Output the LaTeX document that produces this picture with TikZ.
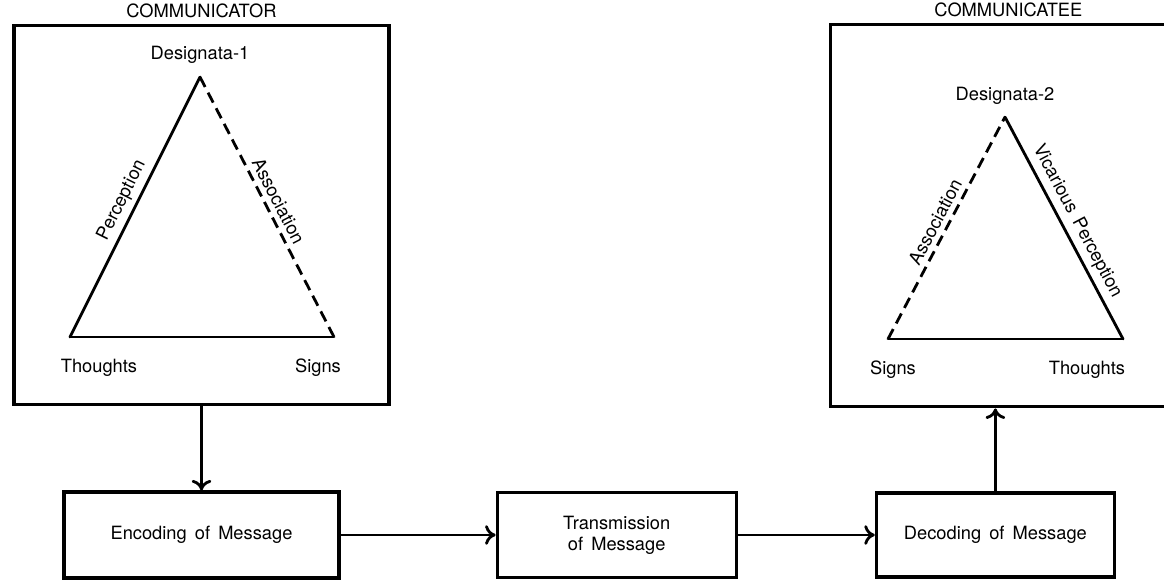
\documentclass[tikz,border=0pt]{standalone}
\usepackage{fontspec}
\setmainfont{TeX Gyre Heros}
\usetikzlibrary{positioning,arrows.meta}

\begin{document}
\begin{tikzpicture}[x=0.025cm, y=-0.025cm, node distance=2.1cm,
    >={To[length=7.5pt, width=14pt]},
    every node/.style={font=\fontsize{13}{15}\selectfont},
    box/.style={draw, line width=2.2pt, align=center},
    frame/.style={draw, line width=2.5pt},
    edge/.style={line width=2pt, line cap=round},
    assoc/.style={edge, line cap=butt, dash pattern=on 8pt off 4.5pt},
    link/.style={line width=2pt, ->}]
     \useasboundingbox (0,0) rectangle (1164,582);
     % the message boxes
     \node (encoding box) [box, minimum width=6.875cm, minimum height=2.15cm] at (201.5,535) {Encoding\, of\, Message};
     \node (transmission box) [box, minimum width=5.975cm, minimum height=2.125cm, right=3.875cm of encoding box] {Transmission\\of\, Message};
     \node (decoding box) [box, minimum width=5.95cm, minimum height=2.1cm, right=3.425cm of transmission box] {Decoding\, of\, Message};
     % the two frames
     \node (communicator frame) [frame, minimum width=9.375cm, minimum height=9.475cm, above=of encoding box] {};
     \node (communicatee frame) [frame, minimum width=8.6cm, minimum height=9.55cm, above=2.075cm of decoding box, xshift=0.175cm] {};
     \node (communicator) [above=0.3mm of communicator frame] {COMMUNICATOR};
     \node (communicatee) [above=0.3mm of communicatee frame, xshift=0.15cm] {COMMUNICATEE};
     % the first triangle
     \coordinate (designata 1) at (200,77);
     \coordinate (thoughts 1) at (70,337);
     \coordinate (signs 1) at (334,337);
     \node (designata 1 label) at (200,55) {Designata-1};
     \node (thoughts 1 label) at (99,368) {Thoughts};
     \node (signs 1 label) at (318,368) {Signs};
     \draw[edge] (thoughts 1) -- node [sloped, above] {Perception} (designata 1);
     \draw[assoc] (designata 1) -- node [sloped, above] {Association} (signs 1);
     \draw[edge] (signs 1) -- (thoughts 1);
     % the second triangle
     \coordinate (designata 2) at (1005,117);
     \coordinate (signs 2) at (888,339);
     \coordinate (thoughts 2) at (1123,339);
     \node (designata 2 label) at (1005,96) {Designata-2};
     \node (signs 2 label) at (893,370) {Signs};
     \node (thoughts 2 label) at (1087,370) {Thoughts};
     \draw[assoc] (signs 2) -- node [sloped, above] {Association} (designata 2);
     \draw[edge] (designata 2) -- node [sloped, above] {Vicarious\, Perception} (thoughts 2);
     \draw[edge] (thoughts 2) -- (signs 2);
     % the arrows
     \draw[link] (communicator frame) -- (encoding box);
     \draw[link] (encoding box) -- (transmission box);
     \draw[link] (transmission box) -- (decoding box);
     \draw[link] (decoding box) -- (decoding box |- communicatee frame.south);
\end{tikzpicture}
\end{document}
